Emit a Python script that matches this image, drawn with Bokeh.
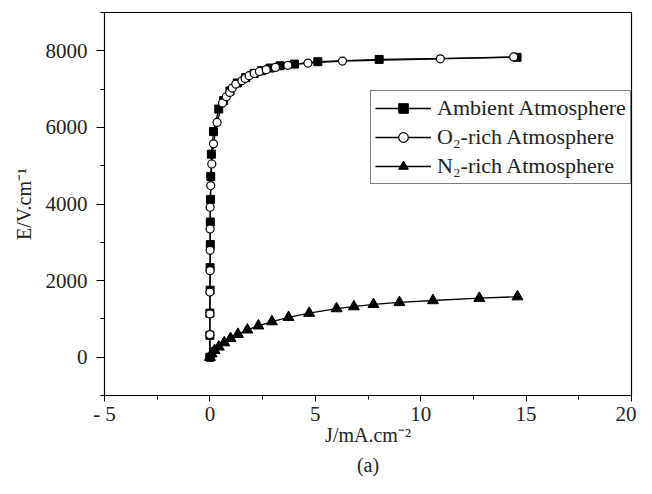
from bokeh.plotting import figure
from bokeh.models import Range1d, SingleIntervalTicker, Legend, LegendItem, Title
from bokeh.embed import file_html
from bokeh.resources import INLINE

# Ambient atmosphere (filled squares)
amb_j = [0.0, 0.0, 0.0, 0.01, 0.01, 0.02, 0.02, 0.03, 0.04, 0.07, 0.17, 0.42,
         0.65, 0.95, 1.3, 1.7, 2.1, 2.45, 2.86, 3.33, 4.01, 5.12, 8.03, 14.57]
amb_e = [0, 570, 1150, 1750, 2340, 2940, 3530, 4120, 4720, 5300, 5890, 6480,
         6700, 6950, 7160, 7300, 7410, 7480, 7550, 7610, 7653, 7715, 7775, 7830]

# O2-rich atmosphere (open circles)
o2_j = [0.0, 0.0, 0.0, 0.0, 0.01, 0.01, 0.01, 0.01, 0.04, 0.09, 0.17, 0.34,
        0.6, 0.78, 0.94, 1.06, 1.23, 1.52, 1.67, 1.86, 2.10, 2.35, 2.67,
        3.11, 3.70, 4.65, 6.29, 10.93, 14.41]
o2_e = [0, 590, 1130, 1700, 2260, 2790, 3350, 3915, 4480, 5045, 5570, 6130,
        6640, 6800, 6914, 7027, 7131, 7219, 7280, 7350, 7410, 7460, 7506,
        7566, 7620, 7680, 7732, 7790, 7840]

# N2-rich atmosphere (filled triangles)
n2_j = [0.0, 0.08, 0.22, 0.42, 0.68, 0.98, 1.33, 1.78, 2.30, 2.94, 3.73,
        4.71, 6.01, 6.83, 7.76, 8.99, 10.58, 12.78, 14.59]
n2_e = [0, 90, 180, 270, 380, 490, 600, 715, 820, 930, 1040, 1150, 1270,
        1320, 1380, 1430, 1480, 1540, 1580]

labels = ["Ambient Atmosphere", "O\u2082-rich Atmosphere", "N\u2082-rich Atmosphere"]
x_label = "J/mA.cm\u207b\u00b2"
y_label = "E/V.cm\u207b\u00b9"
caption = "(a)"

FONT = "Liberation Serif"

p = figure(width=636, height=478, output_backend="svg", toolbar_location=None,
           x_range=Range1d(-5, 20), y_range=Range1d(-1000, 9000),
           min_border_left=104, min_border_right=5, min_border_top=12,
           min_border_bottom=83)
p.grid.visible = False
p.outline_line_color = "black"
p.outline_line_width = 1.2
p.background_fill_color = "white"

p.xaxis.ticker = SingleIntervalTicker(interval=5, num_minor_ticks=2)
p.yaxis.ticker = SingleIntervalTicker(interval=2000, num_minor_ticks=2)
p.xaxis.major_label_overrides = {-5: "- 5"}
for ax in (p.xaxis, p.yaxis):
    ax.major_tick_in = 0
    ax.minor_tick_in = 0
    ax.minor_tick_out = 4
    ax.axis_line_color = "black"
    ax.major_tick_line_color = "black"
    ax.minor_tick_line_color = "black"
    ax.major_label_text_font = FONT
    ax.major_label_text_font_size = "21px"
    ax.major_label_text_color = "#222222"
    ax.axis_label_text_font = FONT
    ax.axis_label_text_font_size = "20px"
    ax.axis_label_text_font_style = "normal"
    ax.axis_label_text_color = "#222222"
p.yaxis.major_tick_out = 8
p.xaxis.major_tick_out = 6
p.xaxis.axis_label = x_label
p.yaxis.axis_label = y_label
p.xaxis.major_label_standoff = 0
p.yaxis.major_label_standoff = 9
p.xaxis.axis_label_standoff = -5
p.yaxis.axis_label_standoff = 8

l1 = p.line(amb_j, amb_e, line_color="black", line_width=1.3)
m1 = p.scatter(amb_j, amb_e, marker="square", size=8, fill_color="black",
               line_color="black")
l2 = p.line(o2_j, o2_e, line_color="black", line_width=1.3)
m2 = p.scatter(o2_j, o2_e, marker="circle", size=8, fill_color="white",
               line_color="black", line_width=1.2)
l3 = p.line(n2_j, n2_e, line_color="black", line_width=1.3)
m3 = p.scatter(n2_j, n2_e, marker="triangle", size=11, fill_color="black",
               line_color="black")

legend = Legend(items=[LegendItem(label=labels[0], renderers=[l1, m1]),
                       LegendItem(label=labels[1], renderers=[l2, m2]),
                       LegendItem(label=labels[2], renderers=[l3, m3])],
                location=(266, 211))
legend.label_text_font = FONT
legend.label_text_font_size = "22px"
legend.label_text_color = "#222222"
legend.border_line_color = "black"
legend.border_line_width = 1.2
legend.padding = 4
legend.spacing = 3
legend.glyph_width = 56
legend.glyph_height = 24
legend.label_height = 24
legend.label_standoff = 6
legend.margin = 0
legend.background_fill_alpha = 1
p.add_layout(legend, "center")

cap = Title(text=caption, align="center", text_font=FONT,
            text_font_size="20px", text_font_style="normal",
            text_color="#222222", standoff=6)
p.add_layout(cap, "below")

open("out.html", "w").write(file_html(p, INLINE))
